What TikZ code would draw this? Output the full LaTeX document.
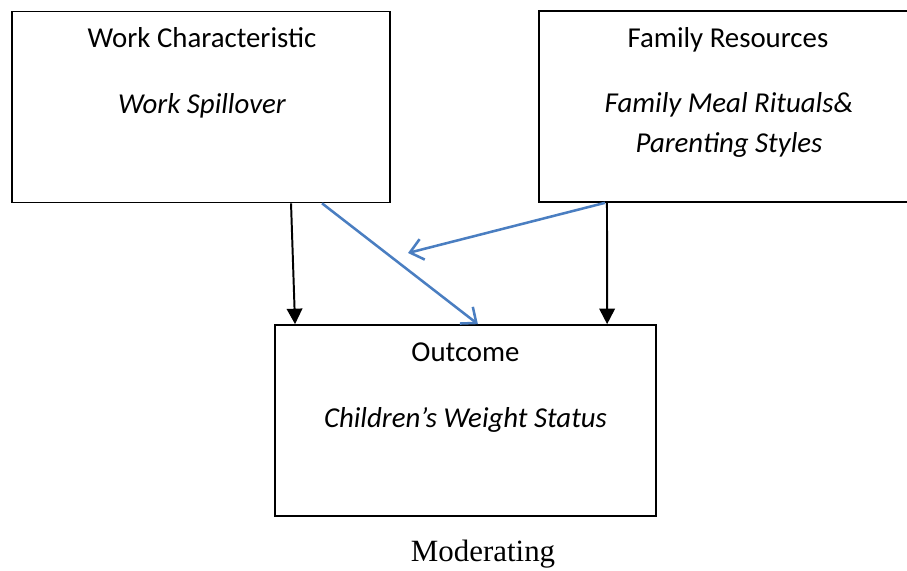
\documentclass[tikz,border=0pt]{standalone}
\usepackage{fontspec}
\setmainfont{Carlito}
\newfontfamily\capfont{Liberation Serif}
\usetikzlibrary{arrows.meta,positioning,calc}
\definecolor{lineblue}{RGB}{74,126,193}
\tikzset{
	box/.style={draw,line width=1.3pt,minimum height=4.77cm,inner sep=0},
	boxtext/.style={font=\fontsize{20.5}{24}\selectfont,inner sep=0,anchor=base},
	diredge/.style={->,>={Triangle[width=11pt,length=11pt]},color=black,line width=1.4pt},
	bluedge/.style={->,>={Straight Barb[width=15pt,length=9pt]},color=lineblue,line width=1.8pt}
}

\begin{document}
\begin{tikzpicture}[x=0.025cm,y=-0.025cm]
	\useasboundingbox (0,0) rectangle (907,571);
	\clip (0,0) rectangle (907,571);
	
	%%%% boxes
	\node[box,minimum width=9.45cm] (work) at (201,107) {};
	\node[box,minimum width=9.4cm] (fam) at (727,106.5) {};
	\node[box,minimum width=9.525cm] (outcome) at (465.5,420.5) {};
	
	%%%% texts
	\node[boxtext] (worktitle) at (202,48) {Work Characteristic};
	\node[boxtext] (workvar) at (202,114) {\itshape Work Spillover};
	\node[boxtext] (famtitle) at (728,48) {Family Resources};
	\node[boxtext] (famvar) at (729,113) {\itshape Family Meal Rituals\&};
	\node[boxtext] (famvarb) at (729,153) {\itshape Parenting Styles};
	\node[boxtext] (outtitle) at (465.5,361) {Outcome};
	\node[boxtext] (outvar) at (465.5,427) {\itshape Children’s Weight Status};
	\node[inner sep=0,anchor=base,font=\capfont\fontsize{22}{26}\selectfont] (caption) at (483,561) {Moderating};
	
	%%%% arrows
	\coordinate (tip) at (408,253);
	\draw[diredge] ([xshift=2.25cm]work.south) -- ([xshift=-4.26cm]outcome.north);
	\draw[diredge] ([xshift=-3.0cm]fam.south) -- ([xshift=3.54cm]outcome.north);
	\draw[bluedge] ([xshift=3.025cm]work.south) -- ([xshift=0.31cm]outcome.north);
	\draw[bluedge] ([xshift=-3.05cm]fam.south) -- (tip);
\end{tikzpicture}
\end{document}
